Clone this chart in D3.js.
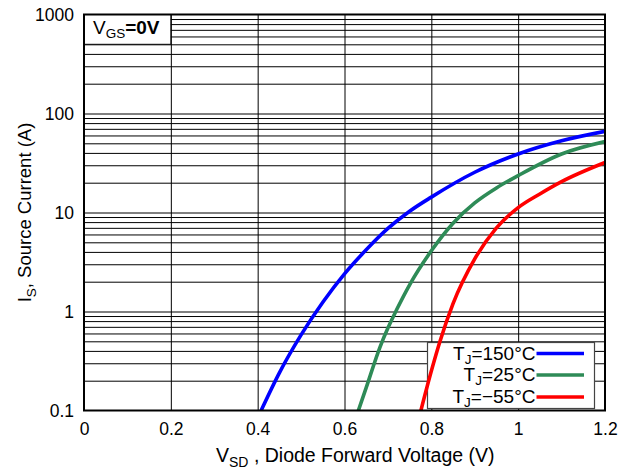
<!DOCTYPE html>
<html>
<head>
<meta charset="utf-8">
<script src="https://cdn.jsdelivr.net/npm/d3@7"></script>
<style>
  html, body { margin: 0; padding: 0; background: #fff; }
  svg { display: block; font-family: "Liberation Sans", Arial, Helvetica, sans-serif; }
</style>
</head>
<body>
<svg id="chart" width="632" height="471"></svg>
<script>
// Axis ticks
const xTicks = [0, 0.2, 0.4, 0.6, 0.8, 1.0, 1.2];
const xTickLabels = ["0", "0.2", "0.4", "0.6", "0.8", "1", "1.2"];
const yTicks = [0.1, 1, 10, 100, 1000];
const yTickLabels = ["0.1", "1", "10", "100", "1000"];

// Source current (A) vs diode forward voltage (V), one pair per junction temperature
const vsd150 = [0.408, 0.45, 0.5, 0.55, 0.6, 0.65, 0.7, 0.75, 0.8, 0.9, 1.0, 1.1, 1.2];
const is150  = [0.1, 0.24, 0.58, 1.24, 2.4, 4.2, 6.9, 10.3, 14.3, 25.5, 39, 53, 66];

const vsd25 = [0.632, 0.65, 0.682, 0.7, 0.72, 0.75, 0.8, 0.85, 0.9, 0.95, 1.0, 1.1, 1.2];
const is25  = [0.1, 0.17, 0.44, 0.68, 1.04, 1.86, 4.1, 7.8, 12.5, 17.7, 23.6, 39, 52];

const vsdM55 = [0.776, 0.8, 0.82, 0.85, 0.9, 0.95, 1.0, 1.05, 1.1, 1.2];
const isM55  = [0.1, 0.25, 0.5, 1.2, 3.4, 7.0, 11.2, 15.4, 20.5, 32];

const seriesTemps  = ["150°C", "25°C", "\u221255°C"];
const seriesColors = ["#0000ff", "#2e8b57", "#ff0000"];

(function drawChart() {
  const series = [
    { temp: seriesTemps[0], color: seriesColors[0], pts: vsd150.map((v, k) => ({ v, i: is150[k] })) },
    { temp: seriesTemps[1], color: seriesColors[1], pts: vsd25.map((v, k) => ({ v, i: is25[k] })) },
    { temp: seriesTemps[2], color: seriesColors[2], pts: vsdM55.map((v, k) => ({ v, i: isM55[k] })) }
  ];

  const svg = d3.select("#chart");
  const pL = 84, pR = 605, pT = 14.5, pB = 410.5;

  const x = d3.scaleLinear().domain([0, 1.2]).range([pL, pR]);
  const y = d3.scaleLog().domain([0.1, 1000]).range([pB, pT]);

  // Grid: vertical lines every 0.2 V, horizontal lines at 1..9 of every decade
  const yGrid = d3.range(-1, 3)
    .flatMap(n => d3.range(1, 10).map(k => +(k * Math.pow(10, n)).toPrecision(3)))
    .filter(v => v > 0.1 && v < 1000);
  const xGrid = xTicks.filter(v => v > 0 && v < 1.2);

  const grid = svg.append("g");
  grid.append("g")
    .attr("transform", `translate(0,${pB})`)
    .call(d3.axisBottom(x).tickValues(xGrid).tickSize(-(pB - pT)).tickFormat(""))
    .call(g => g.select(".domain").remove())
    .call(g => g.selectAll("line").attr("stroke", "#000").attr("stroke-width", 1));
  grid.append("g")
    .attr("transform", `translate(${pL},0)`)
    .call(d3.axisLeft(y).tickValues(yGrid).tickSize(-(pR - pL)).tickFormat(""))
    .call(g => g.select(".domain").remove())
    .call(g => g.selectAll("line").attr("stroke", "#000").attr("stroke-width", 1));

  // Condition label box (covers the grid in the top-left corner)
  svg.append("rect")
    .attr("x", pL).attr("y", pT)
    .attr("width", x(0.2) - pL).attr("height", y(500) - pT)
    .attr("fill", "#fff").attr("stroke", "#000").attr("stroke-width", 1);
  const vgs = svg.append("text")
    .attr("x", 93).attr("y", 33.5)
    .attr("font-size", 19).attr("fill", "#000");
  vgs.append("tspan").text("V");
  vgs.append("tspan").attr("font-size", 13.5).attr("dy", 4.5).text("GS");
  vgs.append("tspan").attr("dy", -4.5).attr("font-weight", "bold").text("=0V");

  // Legend box (under the curves)
  const legX = 427.5, legY = 342.5, legW = 167, legH = 66;
  svg.append("rect")
    .attr("x", legX).attr("y", legY).attr("width", legW).attr("height", legH)
    .attr("fill", "#fff").attr("stroke", "#444").attr("stroke-width", 1.2);

  // Curves
  svg.append("clipPath").attr("id", "plot-clip")
    .append("rect").attr("x", pL).attr("y", pT)
    .attr("width", pR - pL).attr("height", pB - pT);

  const line = d3.line()
    .x(d => x(d.v))
    .y(d => y(d.i))
    .curve(d3.curveMonotoneX);

  svg.append("g").attr("clip-path", "url(#plot-clip)")
    .selectAll("path")
    .data(series)
    .join("path")
    .attr("d", d => line(d.pts))
    .attr("fill", "none")
    .attr("stroke", d => d.color)
    .attr("stroke-width", 3.6)
    .attr("stroke-linecap", "butt");

  // Legend entries
  const rowY = [353.5, 375, 397];
  series.forEach((s, k) => {
    const t = svg.append("text")
      .attr("x", 535.5).attr("y", rowY[k] + 6)
      .attr("text-anchor", "end")
      .attr("font-size", 19).attr("fill", "#000");
    t.append("tspan").text("T");
    t.append("tspan").attr("font-size", 13.5).attr("dy", 4).text("J");
    t.append("tspan").attr("dy", -4).text("=" + s.temp);
    svg.append("line")
      .attr("x1", 536.5).attr("x2", 584)
      .attr("y1", rowY[k]).attr("y2", rowY[k])
      .attr("stroke", s.color).attr("stroke-width", 3.6);
  });

  // Plot frame
  svg.append("rect")
    .attr("x", pL).attr("y", pT)
    .attr("width", pR - pL).attr("height", pB - pT)
    .attr("fill", "none").attr("stroke", "#000").attr("stroke-width", 2);

  // Tick labels
  svg.append("g")
    .attr("transform", `translate(0,${pB})`)
    .call(d3.axisBottom(x).tickValues(xTicks).tickFormat((d, k) => xTickLabels[k]).tickSize(0).tickPadding(12))
    .call(g => g.select(".domain").remove())
    .call(g => g.selectAll("text")
      .attr("font-family", "\"Liberation Sans\", Arial, sans-serif")
      .attr("font-size", 17.5).attr("fill", "#000"));

  svg.append("g")
    .attr("transform", `translate(${pL},0)`)
    .call(d3.axisLeft(y).tickValues(yTicks).tickFormat((d, k) => yTickLabels[k]).tickSize(0).tickPadding(10))
    .call(g => g.select(".domain").remove())
    .call(g => g.selectAll("text")
      .attr("font-family", "\"Liberation Sans\", Arial, sans-serif")
      .attr("font-size", 17.5).attr("fill", "#000"));

  // Axis titles
  const xt = svg.append("text")
    .attr("x", 216).attr("y", 462)
    .attr("font-size", 19.5).attr("fill", "#000");
  xt.append("tspan").text("V");
  xt.append("tspan").attr("font-size", 14).attr("dy", 4.5).text("SD");
  xt.append("tspan").attr("dy", -4.5).text(" , Diode Forward Voltage (V)");

  const yt = svg.append("text")
    .attr("transform", `translate(31,${(pT + pB) / 2}) rotate(-90)`)
    .attr("text-anchor", "middle")
    .attr("font-size", 18.5).attr("fill", "#000");
  yt.append("tspan").text("I");
  yt.append("tspan").attr("font-size", 13.5).attr("dy", 4.5).text("S");
  yt.append("tspan").attr("dy", -4.5).text(", Source Current (A)");
})();
</script>
</body>
</html>
